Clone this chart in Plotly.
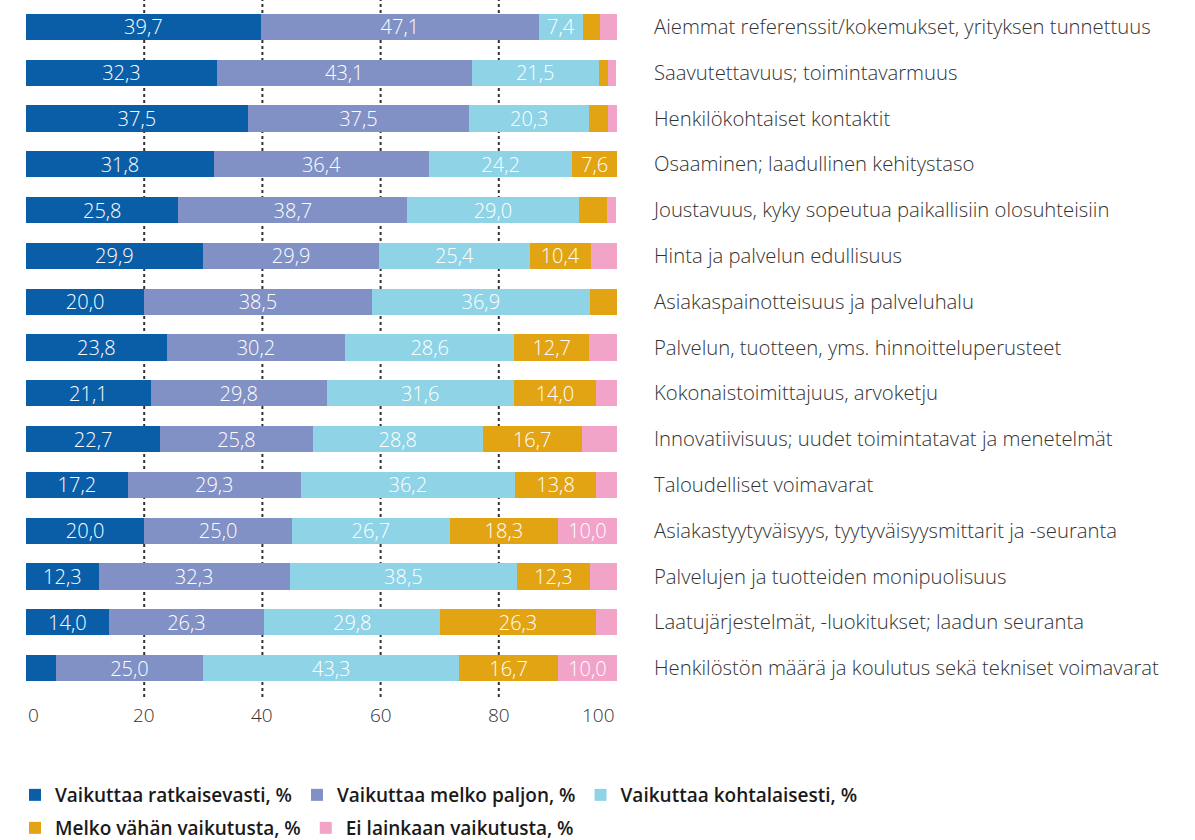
import plotly.graph_objects as go

categories = [
    "Aiemmat referenssit/kokemukset, yrityksen tunnettuus",
    "Saavutettavuus; toimintavarmuus",
    "Henkilökohtaiset kontaktit",
    "Osaaminen; laadullinen kehitystaso",
    "Joustavuus, kyky sopeutua paikallisiin olosuhteisiin",
    "Hinta ja palvelun edullisuus",
    "Asiakaspainotteisuus ja palveluhalu",
    "Palvelun, tuotteen, yms. hinnoitteluperusteet",
    "Kokonaistoimittajuus, arvoketju",
    "Innovatiivisuus; uudet toimintatavat ja menetelmät",
    "Taloudelliset voimavarat",
    "Asiakastyytyväisyys, tyytyväisyysmittarit ja -seuranta",
    "Palvelujen ja tuotteiden monipuolisuus",
    "Laatujärjestelmät, -luokitukset; laadun seuranta",
    "Henkilöstön määrä ja koulutus sekä tekniset voimavarat",
]

ratkaisevasti = [39.7, 32.3, 37.5, 31.8, 25.8, 29.9, 20.0, 23.8, 21.1, 22.7, 17.2, 20.0, 12.3, 14.0, 5.0]
melko_paljon = [47.1, 43.1, 37.5, 36.4, 38.7, 29.9, 38.5, 30.2, 29.8, 25.8, 29.3, 25.0, 32.3, 26.3, 25.0]
kohtalaisesti = [7.4, 21.5, 20.3, 24.2, 29.0, 25.4, 36.9, 28.6, 31.6, 28.8, 36.2, 26.7, 38.5, 29.8, 43.3]
melko_vahan = [2.9, 1.5, 3.1, 7.6, 4.8, 10.4, 4.6, 12.7, 14.0, 16.7, 13.8, 18.3, 12.3, 26.3, 16.7]
ei_lainkaan = [2.9, 1.5, 1.6, 0.0, 1.6, 4.4, 0.0, 4.7, 3.5, 6.0, 3.5, 10.0, 4.6, 3.6, 10.0]

series_names = [
    "Vaikuttaa ratkaisevasti, %",
    "Vaikuttaa melko paljon, %",
    "Vaikuttaa kohtalaisesti, %",
    "Melko vähän vaikutusta, %",
    "Ei lainkaan vaikutusta, %",
]
series_values = [ratkaisevasti, melko_paljon, kohtalaisesti, melko_vahan, ei_lainkaan]
series_colors = ["#0a5ea8", "#8191c5", "#8fd3e7", "#e2a413", "#f2a4c8"]
series_legend = ["legend", "legend", "legend", "legend2", "legend2"]

tick_values = [0, 20, 40, 60, 80, 100]
grid_values = [20, 40, 60, 80]
label_threshold = 7

FONT = "Open Sans"

fig = go.Figure()
for name, vals, col, lg in zip(series_names, series_values, series_colors, series_legend):
    txt = [f"{v:.1f}".replace(".", ",") if v >= label_threshold else "" for v in vals]
    fig.add_trace(go.Bar(
        y=categories, x=vals, orientation="h", name=name,
        marker=dict(color=col, line=dict(width=0)),
        text=txt, textposition="inside", insidetextanchor="middle", textangle=0,
        constraintext="none",
        textfont=dict(color="white", size=20, family=FONT, weight=300),
        legend=lg, hoverinfo="skip",
    ))

plot_w = 1195 - 26 - 10
plot_h = 840 - 4 - 149

for v in grid_values:
    fig.add_shape(type="line", xref="x", yref="paper", x0=v, x1=v,
                  y0=-6 / plot_h, y1=1 + 4 / plot_h,
                  line=dict(color="#333333", width=2, dash="dot"), layer="below")

for v in tick_values:
    anchor = "left" if v == tick_values[0] else ("right" if v == tick_values[-1] else "center")
    fig.add_annotation(x=v, xref="x", y=-24 / plot_h, yref="paper", text=str(v),
                       showarrow=False, xanchor=anchor, yanchor="middle",
                       font=dict(size=19, color="#333333", family=FONT, weight=300))

legend_font = dict(size=19, color="#1a1a1a", family=FONT, weight=600)
fig.update_layout(
    width=1195, height=840,
    margin=dict(l=26, r=10, t=4, b=149, autoexpand=False),
    barmode="stack", bargap=0.43,
    plot_bgcolor="white", paper_bgcolor="white",
    xaxis=dict(domain=[0, 591 / plot_w], range=[0, 100], showgrid=False, zeroline=False,
               showticklabels=False, showline=False, fixedrange=True, automargin=False),
    yaxis=dict(side="right", autorange="reversed", showgrid=False, showline=False,
               ticks="", ticklabelstandoff=36, automargin=False,
               tickfont=dict(size=20.3, color="#333333", family=FONT, weight=300)),
    legend=dict(orientation="h", x=-11 / plot_w, xanchor="left", y=-(795 - 691) / plot_h, yanchor="middle",
                font=legend_font, traceorder="normal", itemclick=False),
    legend2=dict(orientation="h", x=-11 / plot_w, xanchor="left", y=-(828 - 691) / plot_h, yanchor="middle",
                 font=legend_font, traceorder="normal", itemclick=False),
    showlegend=True,
)

fig.write_html("out.html", config={"displayModeBar": False},
               post_script="document.body.style.margin='0';")
